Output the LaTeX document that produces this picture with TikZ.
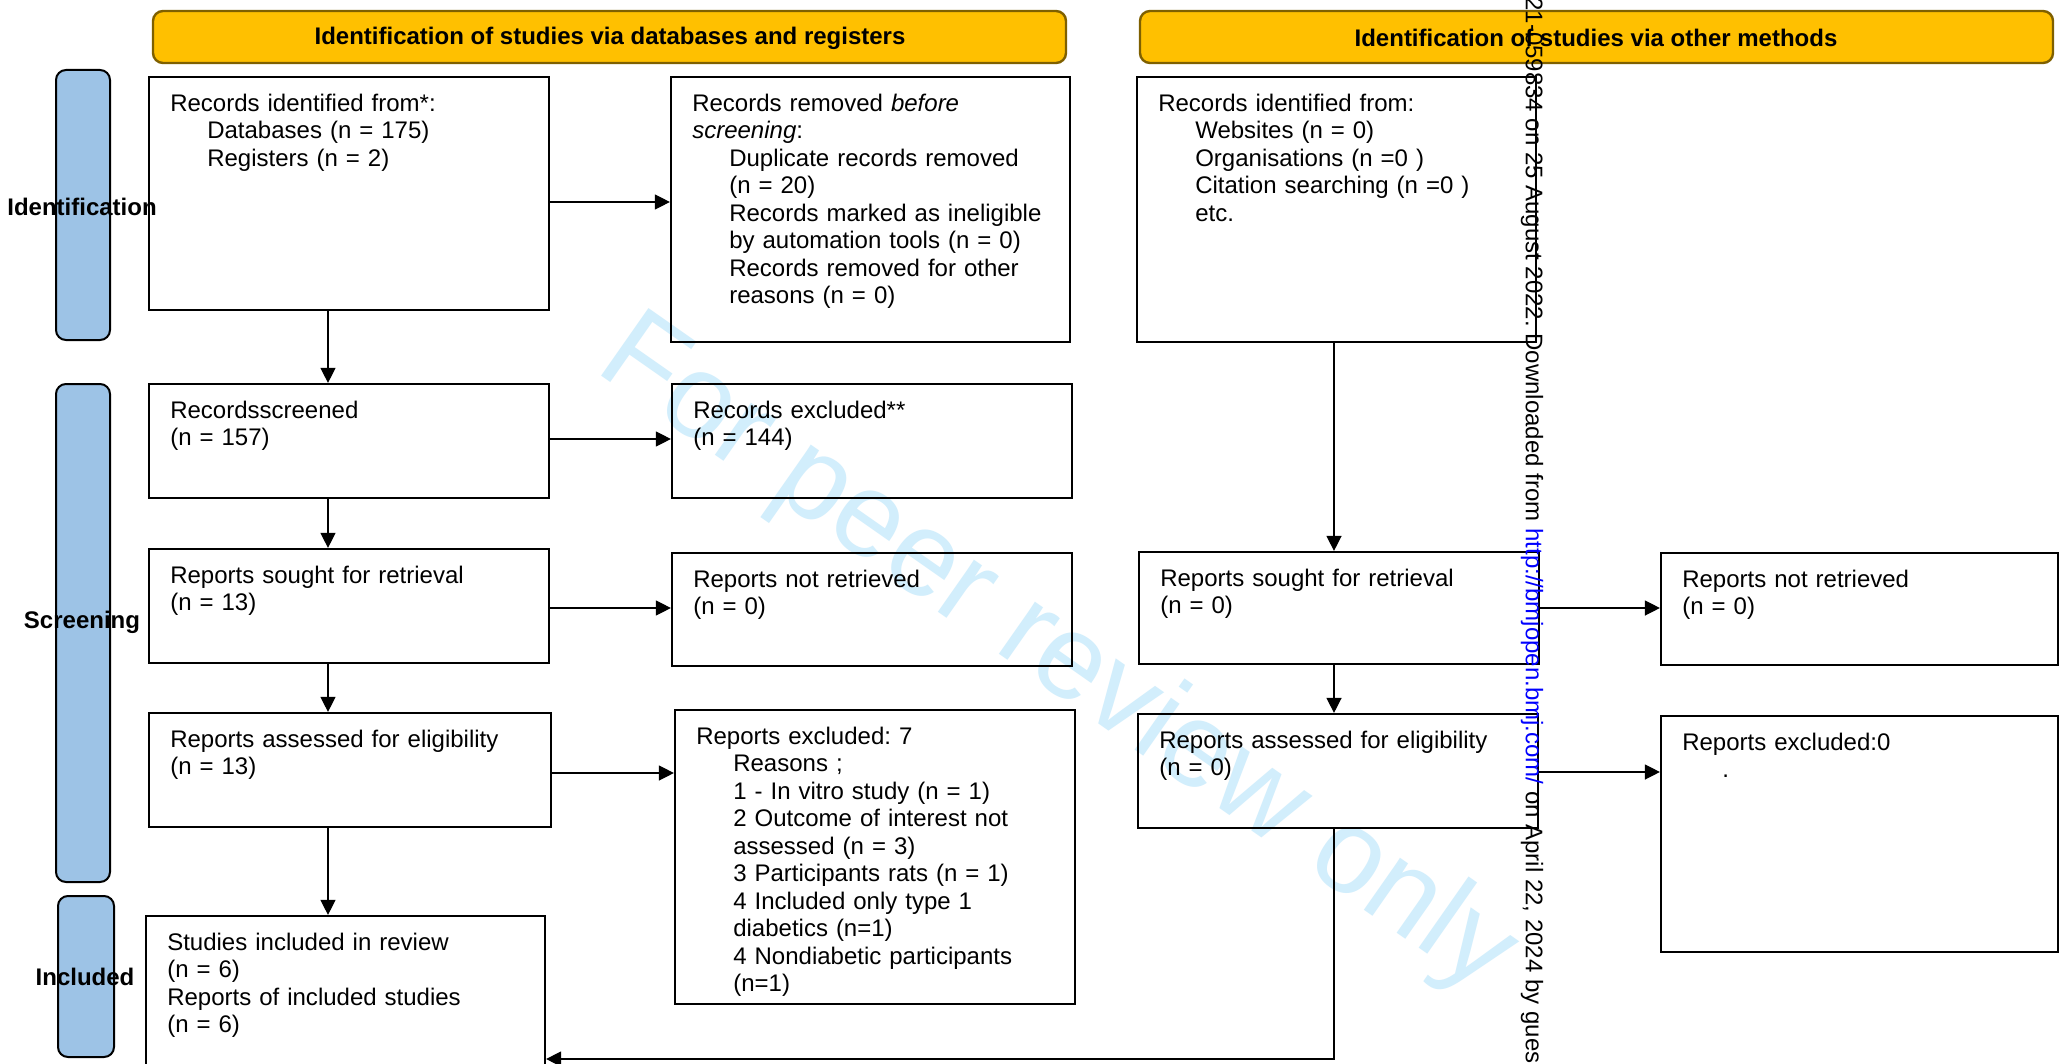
\documentclass[tikz,border=0pt]{standalone}
\usepackage{fontspec}
\setmainfont{Liberation Sans}
\usetikzlibrary{arrows.meta,fit}
\definecolor{hdrfill}{HTML}{FFC000}
\definecolor{hdrdraw}{HTML}{7F6000}
\definecolor{barfill}{HTML}{9DC3E6}
\definecolor{wmcol}{RGB}{210,238,252}
\newlength{\subind}\setlength{\subind}{18.5pt}
\newcommand{\ii}{\hspace*{\subind}}
\frenchspacing
\begin{document}
\begin{tikzpicture}[x=0.5pt,y=-0.5pt,
  box/.style={draw=black, line width=1.1pt, inner sep=0pt},
  txt/.style={anchor=north west, inner sep=0pt, align=left, text width=190pt,
    font=\fontsize{12pt}{13.75pt}\selectfont},
  hdr/.style={draw=hdrdraw, fill=hdrfill, line width=1.2pt, rounded corners=5pt, inner sep=0pt},
  hdrtxt/.style={inner sep=0pt, font=\bfseries\fontsize{12pt}{14pt}\selectfont},
  bar/.style={draw=black, fill=barfill, line width=1pt, rounded corners=5pt, inner sep=0pt},
  sidelbl/.style={font=\bfseries\fontsize{12pt}{14pt}\selectfont, inner sep=0pt},
  arr/.style={line width=0.65pt, -{Triangle[length=7.5pt,width=7.5pt]}},
]
\clip (0,0) rectangle (2060,1064);
\fill[white] (0,0) rectangle (2060,1064);

% watermark
\node[font=\fontsize{60pt}{72pt}\selectfont, text=wmcol, rotate=-35, anchor=base west, inner sep=0pt] (wm) at (593,370) {For peer review only};

% headers
\node[hdr, fit={(153,11) (1066,63)}] (h1) {};
\node[hdr, fit={(1140,11) (2053,63)}] (h2) {};
\node[hdrtxt] (h1t) at (610,38) {Identification of studies via databases and registers};
\node[hdrtxt] (h2t) at (1596,38) {Identification of studies via other methods};

% side bars
\node[bar, fit={(56,70) (110,340)}] (bid) {};
\node[bar, fit={(56,384) (110,882)}] (bsc) {};
\node[bar, fit={(58,896) (114,1057)}] (bin) {};
\node[sidelbl] (lid) at (82,207) {Identification};
\node[sidelbl] (lsc) at (82,622) {Screening};
\node[sidelbl] (lin) at (85,977) {Included};

% boxes
\node[box, fit={(149,77) (549,310)}] (A) {};
\node[box, fit={(671,77) (1070,342)}] (B) {};
\node[box, fit={(1137,77) (1536,342)}] (C) {};
\node[box, fit={(149,384) (549,498)}] (D) {};
\node[box, fit={(672,384) (1072,498)}] (E) {};
\node[box, fit={(149,549) (549,663)}] (F) {};
\node[box, fit={(672,553) (1072,666)}] (G) {};
\node[box, fit={(1139,552) (1539,664)}] (K) {};
\node[box, fit={(1661,553) (2058,665)}] (L) {};
\node[box, fit={(149,713) (551,827)}] (H) {};
\node[box, fit={(675,710) (1075,1004)}] (I) {};
\node[box, fit={(1138,714) (1538,828)}] (M) {};
\node[box, fit={(1661,716) (2058,952)}] (N) {};
\node[box, fit={(146,916) (545,1090)}] (J) {};

% texts
\node[txt] (At) at ([xshift=11pt,yshift=-8.75pt]A.north west) {Records identified from*:\\\ii Databases (n = 175)\\\ii Registers (n = 2)};
\node[txt] (Bt) at ([xshift=11pt,yshift=-8.75pt]B.north west) {Records removed \textit{before}\\\textit{screening}:\\\ii Duplicate records removed\\\ii (n = 20)\\\ii Records marked as ineligible\\\ii by automation tools (n = 0)\\\ii Records removed for other\\\ii reasons (n = 0)};
\node[txt] (Ct) at ([xshift=11pt,yshift=-8.75pt]C.north west) {Records identified from:\\\ii Websites (n = 0)\\\ii Organisations (n =0 )\\\ii Citation searching (n =0 )\\\ii etc.};
\node[txt] (Dt) at ([xshift=11pt,yshift=-8.75pt]D.north west) {Recordsscreened\\(n = 157)};
\node[txt] (Et) at ([xshift=11pt,yshift=-8.75pt]E.north west) {Records excluded**\\(n = 144)};
\node[txt] (Ft) at ([xshift=11pt,yshift=-8.75pt]F.north west) {Reports sought for retrieval\\(n = 13)};
\node[txt] (Gt) at ([xshift=11pt,yshift=-8.75pt]G.north west) {Reports not retrieved\\(n = 0)};
\node[txt] (Kt) at ([xshift=11pt,yshift=-8.75pt]K.north west) {Reports sought for retrieval\\(n = 0)};
\node[txt] (Lt) at ([xshift=11pt,yshift=-8.75pt]L.north west) {Reports not retrieved\\(n = 0)};
\node[txt] (Ht) at ([xshift=11pt,yshift=-8.75pt]H.north west) {Reports assessed for eligibility\\(n = 13)};
\node[txt] (It) at ([xshift=11pt,yshift=-8.75pt]I.north west) {Reports excluded: 7\\\ii Reasons ;\\\ii 1 - In vitro study (n = 1)\\\ii 2 Outcome of interest not\\\ii assessed (n = 3)\\\ii 3 Participants rats (n = 1)\\\ii 4 Included only type 1\\\ii diabetics (n=1)\\\ii 4 Nondiabetic participants\\\ii (n=1)};
\node[txt] (Mt) at ([xshift=11pt,yshift=-8.75pt]M.north west) {Reports assessed for eligibility\\(n = 0)};
\node[txt] (Nt) at ([xshift=11pt,yshift=-8.75pt]N.north west) {Reports excluded:0\\\hspace*{20pt}.};
\node[txt] (Jt) at ([xshift=11pt,yshift=-8.75pt]J.north west) {Studies included in review\\(n = 6)\\Reports of included studies\\(n = 6)};

% connector guides
\coordinate (vL) at (328,0);
\coordinate (vR) at (1334,0);
\coordinate (hAB) at (0,202);
\coordinate (hDE) at (0,439);
\coordinate (hFG) at (0,608);
\coordinate (hHI) at (0,773);
\coordinate (hKL) at (0,608);
\coordinate (hMN) at (0,772);
\coordinate (hMJ) at (0,1059);

\draw[arr] (A.south -| vL) -- (D.north -| vL);
\draw[arr] (D.south -| vL) -- (F.north -| vL);
\draw[arr] (F.south -| vL) -- (H.north -| vL);
\draw[arr] (H.south -| vL) -- (J.north -| vL);
\draw[arr] (A.east |- hAB) -- (B.west |- hAB);
\draw[arr] (D.east |- hDE) -- (E.west |- hDE);
\draw[arr] (F.east |- hFG) -- (G.west |- hFG);
\draw[arr] (H.east |- hHI) -- (I.west |- hHI);
\draw[arr] (C.south -| vR) -- (K.north -| vR);
\draw[arr] (K.south -| vR) -- (M.north -| vR);
\draw[arr] (K.east |- hKL) -- (L.west |- hKL);
\draw[arr] (M.east |- hMN) -- (N.west |- hMN);
\draw[arr] (M.south -| vR) |- (J.east |- hMJ);

% side download text
\node[font=\fontsize{12pt}{14pt}\selectfont, rotate=-90, anchor=west, inner sep=0pt] (dl) at (1532,-3) {21-059834 on 25 August 2022. Downloaded from \textcolor{blue}{http://bmjopen.bmj.com/} on April 22, 2024 by gues};
\end{tikzpicture}
\end{document}
